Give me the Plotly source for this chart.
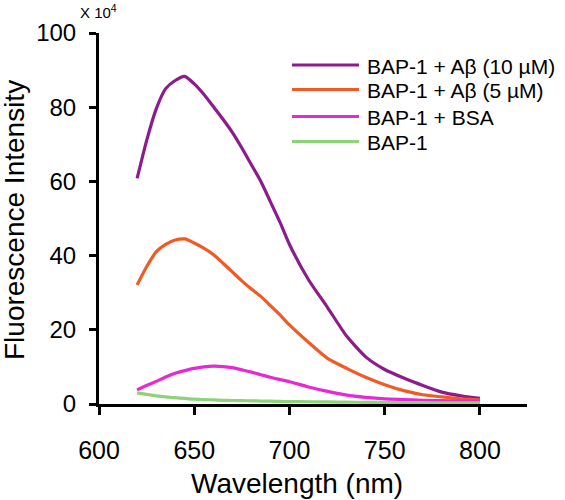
import plotly.graph_objects as go

wavelength = [620, 625, 630, 635, 640, 645, 650, 655, 660, 665, 670, 675, 680, 685,
              690, 695, 700, 710, 720, 730, 740, 750, 760, 770, 780, 790, 800]

abeta_10 = [60.8, 71.0, 79.5, 85.0, 87.2, 88.3, 86.3, 83.5, 80.2, 76.8, 73.2, 69.0, 64.5, 60.0,
            54.5, 49.0, 43.0, 33.5, 26.0, 18.3, 12.7, 9.3, 7.0, 5.0, 3.2, 2.2, 1.5]
abeta_5 = [32.1, 37.0, 41.0, 43.0, 44.2, 44.5, 43.4, 42.0, 40.3, 38.0, 35.6, 33.2, 31.0, 29.0,
           26.5, 24.0, 21.3, 16.6, 12.3, 9.6, 7.2, 5.2, 3.6, 2.5, 1.9, 1.4, 1.1]
bsa = [3.8, 5.0, 6.1, 7.3, 8.3, 9.0, 9.6, 10.0, 10.2, 10.1, 9.8, 9.2, 8.6, 7.9,
       7.2, 6.6, 6.0, 4.6, 3.4, 2.4, 1.8, 1.4, 1.2, 1.0, 0.9, 0.8, 0.8]
bap1 = [3.0, 2.6, 2.2, 1.9, 1.7, 1.5, 1.3, 1.2, 1.1, 1.0, 0.95, 0.9, 0.85, 0.8,
        0.75, 0.7, 0.65, 0.6, 0.55, 0.5, 0.45, 0.4, 0.38, 0.35, 0.33, 0.3, 0.3]

series_names = ["BAP-1 + Aβ (10 µM)", "BAP-1 + Aβ (5 µM)", "BAP-1 + BSA", "BAP-1"]
series_values = [abeta_10, abeta_5, bsa, bap1]
series_colors = ["#8E1B8C", "#F05A24", "#E62AD2", "#8ED27A"]

x_ticks = [600, 650, 700, 750, 800]
y_ticks = [0, 20, 40, 60, 80, 100]

FONT = "Liberation Sans, Arial, sans-serif"

# plot-area geometry in pixels (for placing decorations in paper coordinates)
L, R, T, B = 99, 38, 33, 96
W, H = 565, 500
PW, PH = W - L - R, H - T - B


def px_x(px):
    return (px - L) / PW


def px_y(py):
    return (H - B - py) / PH


fig = go.Figure()
for name, vals, col in zip(series_names, series_values, series_colors):
    fig.add_trace(go.Scatter(x=wavelength, y=vals, mode="lines", name=name,
                             line=dict(color=col, width=3.2, shape="spline", smoothing=0.6)))

# legend drawn as line swatches + labels
legend_rows_px = [65, 89.5, 116.5, 141.5]
shapes = []
annotations = []
for name, col, ry in zip(series_names, series_colors, legend_rows_px):
    shapes.append(dict(type="line", xref="paper", yref="paper",
                       x0=px_x(292), x1=px_x(359), y0=px_y(ry), y1=px_y(ry),
                       line=dict(color=col, width=3)))
    annotations.append(dict(text=name, x=px_x(365), y=px_y(ry + 1), xref="paper", yref="paper",
                            xanchor="left", yanchor="middle", showarrow=False,
                            font=dict(size=21, family=FONT, color="black")))

annotations += [
    dict(text="X 10<sup>4</sup>", x=px_x(98.5), y=px_y(11), xref="paper", yref="paper",
         xanchor="center", yanchor="middle", showarrow=False,
         font=dict(size=15, family=FONT, color="black")),
    dict(text="Wavelength (nm)", x=px_x(296.5), y=px_y(483), xref="paper", yref="paper",
         xanchor="center", yanchor="middle", showarrow=False,
         font=dict(size=28, family=FONT, color="black")),
    dict(text="Fluorescence Intensity", x=px_x(14), y=px_y(220), xref="paper", yref="paper",
         xanchor="center", yanchor="middle", textangle=-90, showarrow=False,
         font=dict(size=28, family=FONT, color="black")),
]

fig.update_layout(
    width=W, height=H,
    margin=dict(l=L, r=R, t=T, b=B),
    paper_bgcolor="white", plot_bgcolor="white",
    font=dict(family=FONT, color="black"),
    showlegend=False,
    xaxis=dict(range=[600, 824.7], tickvals=x_ticks, ticktext=[str(v) for v in x_ticks],
               showline=True, linecolor="black", linewidth=3,
               ticks="outside", ticklen=8, tickwidth=3, tickcolor="black",
               showgrid=False, zeroline=False,
               tickfont=dict(size=25, family=FONT, color="black"),
               ticklabelstandoff=14),
    yaxis=dict(range=[0, 100], tickvals=y_ticks, ticktext=[str(v) for v in y_ticks],
               showline=True, linecolor="black", linewidth=3,
               ticks="outside", ticklen=7, tickwidth=3, tickcolor="black",
               showgrid=False, zeroline=False,
               tickfont=dict(size=24, family=FONT, color="black"),
               ticklabelstandoff=8),
    shapes=shapes,
    annotations=annotations,
)

fig.write_html("out.html", config={"displayModeBar": False},
               post_script="document.body.style.margin='0';")
